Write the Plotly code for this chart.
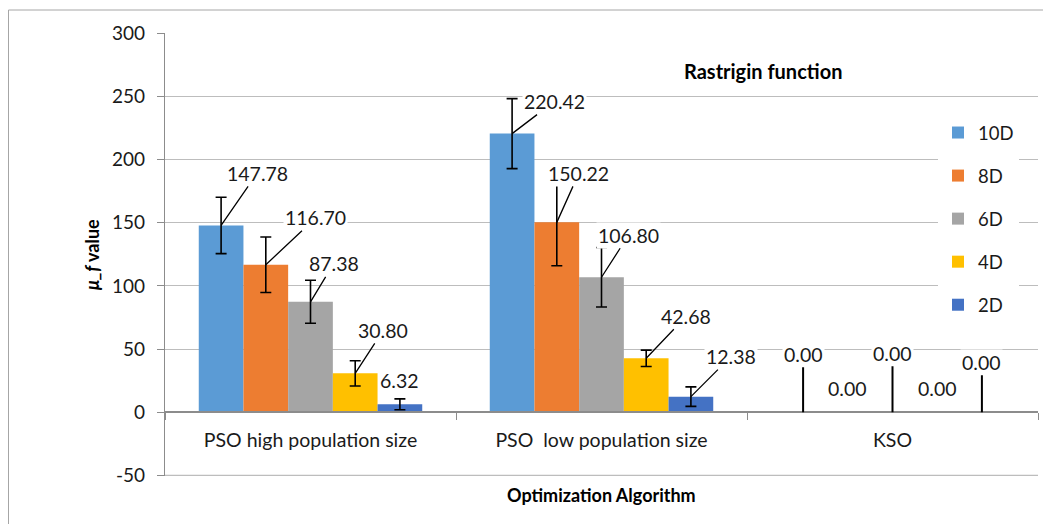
import plotly.graph_objects as go

categories = ["PSO high population size", "PSO  low population size", "KSO"]
series_names = ["10D", "8D", "6D", "4D", "2D"]
values_10d = [147.78, 220.42, 0.00]
values_8d = [116.70, 150.22, 0.00]
values_6d = [87.38, 106.80, 0.00]
values_4d = [30.80, 42.68, 0.00]
values_2d = [6.32, 12.38, 0.00]
err_10d = [22.3, 27.7, 0.0]
err_8d = [22.0, 34.3, 0.0]
err_6d = [17.0, 23.5, 0.0]
err_4d = [10.0, 6.5, 0.0]
err_2d = [4.3, 7.7, 0.0]
y_tickvals = [-50, 0, 50, 100, 150, 200, 250, 300]
y_ticktext = ["-50", "0", "50", "100", "150", "200", "250", "300"]

COLORS = ["#5B9BD5", "#ED7D31", "#A5A5A5", "#FFC000", "#4472C4"]
FONT = "Lato, 'Open Sans', sans-serif"
GRID = "#BDBDBD"
BARGAP = 0.232

# label offsets in px (text centre relative to bar top), and whether a leader line shows
label_offsets = [
    [(36, -52), (42, -32), (0, -58)],
    [(50, -47), (22, -49), (0, -24)],
    [(23, -38), (27, -42), (0, -59)],
    [(28, -43), (40, -42), (0, -24)],
    [(0, -24), (40, -40), (0, -50)],
]
leader = [
    [True, True, True],
    [True, True, False],
    [True, True, True],
    [True, True, False],
    [False, True, True],
]

all_values = [values_10d, values_8d, values_6d, values_4d, values_2d]
all_errs = [err_10d, err_8d, err_6d, err_4d, err_2d]

fig = go.Figure()
for i, name in enumerate(series_names):
    fig.add_trace(go.Bar(
        name=name, x=categories, y=all_values[i], marker_color=COLORS[i],
        marker_line_width=0, legendgroup=name,
        error_y=dict(type="data", array=all_errs[i], color="#000", thickness=1.6, width=5.5),
    ))

w = (1 - BARGAP) / len(series_names)
annotations = []
for i in range(len(series_names)):
    for g in range(len(categories)):
        ax, ay = label_offsets[i][g]
        annotations.append(dict(
            x=g + (i - 2) * w, y=all_values[i][g], xref="x", yref="y",
            text=f"{all_values[i][g]:.2f}", showarrow=True, ax=ax, ay=ay,
            arrowhead=0, arrowwidth=2 if ax == 0 else 1.3, standoff=0,
            arrowcolor="#000" if leader[i][g] else "rgba(0,0,0,0)",
            bgcolor="white", borderpad=1,
            font=dict(family=FONT, size=19.5, color="#1a1a1a"),
        ))

# page has an 8px body margin; plot area in page px: x 165..1038, y 33..476
OFF = 8


def px_x(p):
    return (p - 165) / 873


def px_y(p):
    return (476 - p) / 443


def paper_note(text, x, y, size, angle=0):
    return dict(text=text, x=px_x(x), y=px_y(y), xref="paper", yref="paper",
                xanchor="center", yanchor="middle", showarrow=False, textangle=angle,
                font=dict(family=FONT, size=size, color="#000"))


annotations += [
    paper_note("<b>Rastrigin function</b>", 763, 71, 20),
    paper_note("<b>Optimization Algorithm</b>", 601, 495, 18),
    paper_note("<b><i>μ_f</i> value</b>", 92, 255, 18, -90),
]

fig.update_layout(
    width=1051 - OFF, height=524 - OFF,
    margin=dict(l=165 - OFF, r=1051 - 1038, t=33 - OFF, b=524 - 476),
    paper_bgcolor="white", plot_bgcolor="white",
    barmode="group", bargap=BARGAP, bargroupgap=0,
    font=dict(family=FONT, size=18, color="#1a1a1a"),
    annotations=annotations,
    legend=dict(x=px_x(938), y=px_y(114), xanchor="left", yanchor="top",
                bgcolor="white", font=dict(family=FONT, size=18.5, color="#1a1a1a"),
                tracegroupgap=16, itemwidth=30),
    shapes=[
        # -50 gridline (plotly drops the grid at the bottom edge)
        dict(type="line", xref="paper", yref="y", x0=0, x1=1, y0=-50, y1=-50,
             line=dict(color=GRID, width=1.3), layer="below"),
        # outer chart frame
        dict(type="line", xref="paper", yref="paper", x0=px_x(8.5), x1=px_x(8.5),
             y0=px_y(540), y1=px_y(10), line=dict(color="#A6A6A6", width=1)),
        dict(type="line", xref="paper", yref="paper", x0=px_x(8.5), x1=px_x(1070),
             y0=px_y(10), y1=px_y(10), line=dict(color="#A6A6A6", width=1)),
    ],
)
fig.update_yaxes(
    range=[-50.4, 300], tickvals=y_tickvals, ticktext=y_ticktext,
    showgrid=True, gridcolor=GRID, gridwidth=1.3,
    zeroline=False, showline=True, linecolor="#8C8C8C", linewidth=1.3,
    ticks="outside", ticklen=7, tickcolor="#8C8C8C", ticklabelstandoff=8,
    tickfont=dict(family=FONT, size=19, color="#1a1a1a"),
)
fig.update_xaxes(
    type="category", anchor="free", position=50.4 / 350.4,
    showline=True, linecolor="#8C8C8C", linewidth=1.6, showgrid=False,
    ticks="outside", ticklen=7, tickcolor="#8C8C8C", tickson="boundaries",
    ticklabelstandoff=11, tickfont=dict(family=FONT, size=19.5, color="#1a1a1a"),
)

fig.write_html("out.html")
